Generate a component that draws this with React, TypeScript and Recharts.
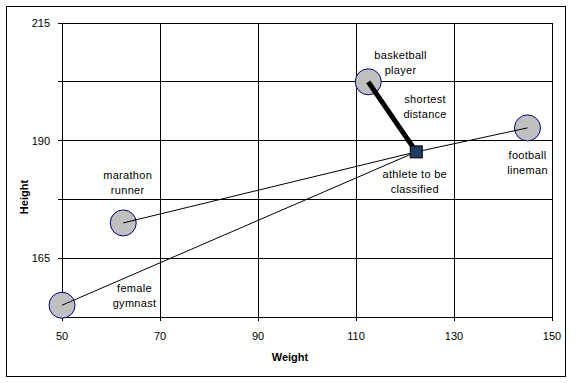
import { ScatterChart, Scatter, XAxis, YAxis, CartesianGrid, Label } from 'recharts';

// athletes (weight, height)
const athleteNames = ['female gymnast', 'marathon runner', 'basketball player', 'football lineman'];
const athleteWeights = [50, 62.5, 112.5, 145];
const athleteHeights = [155, 172.5, 202.5, 192.7];

// the one we want to classify
const unknownWeight = 122.3;
const unknownHeight = 187.6;

// annotation text, anchored in data units
const noteLines = [
  ['female', 'gymnast'],
  ['marathon', 'runner'],
  ['basketball', 'player'],
  ['football', 'lineman'],
  ['athlete to be', 'classified'],
  ['shortest', 'distance'],
];
const noteWeights = [64.8, 63.4, 119.1, 145, 122, 124.1];
const noteHeights = [158.6, 182.6, 208.2, 186.9, 183, 198.8];

const xTicks = [50, 70, 90, 110, 130, 150];
const yTicks = [152.5, 165, 177.5, 190, 202.5, 215];
const yLabelled = [165, 190, 215];

const FONT = '"Liberation Sans", Arial, sans-serif';

const athletes = athleteNames.map((name, i) => ({ name, x: athleteWeights[i], y: athleteHeights[i] }));
const unknown = [{ x: unknownWeight, y: unknownHeight }];
const notes = noteLines.map((lines, i) => ({ lines, x: noteWeights[i], y: noteHeights[i] }));

// the nearest neighbour gets the thick line
const distances = athletes.map(a => Math.hypot(a.x - unknownWeight, a.y - unknownHeight));
const nearest = distances.indexOf(Math.min(...distances));

const Nothing = () => <g />;

const Circle = (props: any) => (
  <circle cx={props.cx} cy={props.cy} r={13} fill="#c0c0c0" stroke="#000080" strokeWidth={1} />
);

const Square = (props: any) => (
  <rect x={props.cx - 6} y={props.cy - 6} width={12} height={12} fill="#1f3a64" stroke="#000" strokeWidth={1} />
);

const Note = (props: any) => {
  const lines: string[] = props.payload.lines;
  return (
    <g>
      {lines.map((t, i) => (
        <text
          key={i}
          x={props.cx}
          y={props.cy + i * 15}
          textAnchor="middle"
          dominantBaseline="central"
          fontSize={11}
          fontFamily={FONT}
          letterSpacing={0.3}
          fill="#000"
        >
          {t}
        </text>
      ))}
    </g>
  );
};

export default function App() {
  return (
    <div style={{ position: 'absolute', left: 0, top: 0, width: 576, height: 383, background: '#fff' }}>
      <div
        style={{
          position: 'absolute',
          left: 6,
          top: 6,
          width: 558,
          height: 369,
          border: '1.5px solid #000',
        }}
      />
      <ScatterChart width={576} height={383} margin={{ top: 23, right: 24, bottom: 26, left: 0 }}>
        <CartesianGrid stroke="#000" strokeWidth={1} shapeRendering="crispEdges" />
        <XAxis
          type="number"
          dataKey="x"
          domain={[50, 150]}
          ticks={xTicks}
          height={40}
          tickSize={4}
          tickMargin={11}
          stroke="#000"
          shapeRendering="crispEdges"
          tick={{ fill: '#000', fontSize: 11, fontFamily: FONT }}
        >
          <Label
            content={() => (
              <text x={290} y={357} textAnchor="middle" dominantBaseline="central" fontSize={11} fontWeight="bold" fontFamily={FONT}>
                Weight
              </text>
            )}
          />
        </XAxis>
        <YAxis
          type="number"
          dataKey="y"
          domain={[152.5, 215]}
          ticks={yTicks}
          width={62}
          tickSize={4}
          tickMargin={8}
          stroke="#000"
          shapeRendering="crispEdges"
          tickFormatter={(v: number) => (yLabelled.includes(v) ? String(v) : '')}
          tick={{ fill: '#000', fontSize: 11, fontFamily: FONT }}
        >
          <Label
            content={() => (
              <text
                x={24}
                y={197}
                textAnchor="middle"
                dominantBaseline="central"
                fontSize={11}
                fontWeight="bold"
                fontFamily={FONT}
                transform="rotate(-90 24 197)"
              >
                Height
              </text>
            )}
          />
        </YAxis>
        <Scatter data={athletes} shape={Circle} isAnimationActive={false} />
        {athletes.map((a, i) => (
          <Scatter
            key={a.name}
            data={[a, unknown[0]]}
            line={{ stroke: '#000', strokeWidth: i === nearest ? 5 : 1 }}
            lineType="joint"
            shape={Nothing}
            isAnimationActive={false}
          />
        ))}
        <Scatter data={unknown} shape={Square} isAnimationActive={false} />
        <Scatter data={notes} shape={Note} isAnimationActive={false} />
      </ScatterChart>
    </div>
  );
}
